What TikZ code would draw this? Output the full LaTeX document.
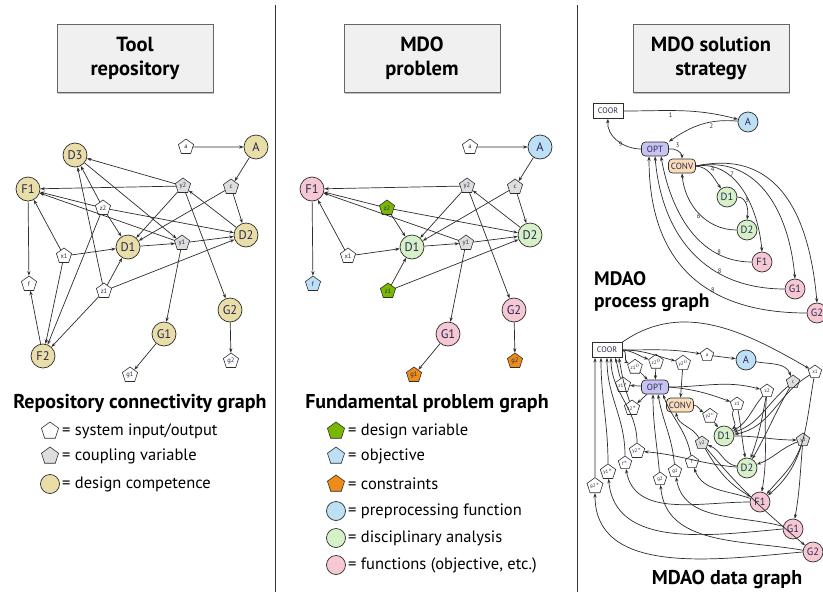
\documentclass[tikz,border=0pt]{standalone}
\usepackage{fontspec}
\setmainfont{PT Sans}
\usetikzlibrary{shapes.geometric,arrows.meta,calc}

\definecolor{comptan}{RGB}{234,222,168}
\definecolor{prepblue}{RGB}{189,224,246}
\definecolor{discgreen}{RGB}{214,241,200}
\definecolor{funcpink}{RGB}{246,200,212}
\definecolor{dvgreen}{RGB}{122,184,0}
\definecolor{conorange}{RGB}{238,140,24}
\definecolor{cplgrey}{RGB}{222,222,222}
\definecolor{optlilac}{RGB}{200,196,242}
\definecolor{convpeach}{RGB}{251,222,185}
\definecolor{boxgrey}{RGB}{240,240,240}
\definecolor{ink}{RGB}{45,45,45}
\definecolor{lbl}{RGB}{40,40,80}

\tikzset{
  comp/.style={circle, draw=ink, line width=0.7pt, minimum size=24pt, inner sep=0pt,
    font=\fontsize{12.5}{12.5}\selectfont, text=lbl},
  pent/.style={regular polygon, regular polygon sides=5, draw=ink, line width=0.6pt,
    minimum size=16pt, inner sep=0pt, fill=white, font=\fontsize{6.5}{6.5}\selectfont, text=lbl},
  edge/.style={-{Stealth[length=4.5pt,width=3.2pt]}, line width=0.7pt, draw=ink},
  titlebox/.style={draw=black!60, line width=0.8pt, fill=boxgrey, minimum width=156pt,
    minimum height=68pt, align=center, font=\bfseries\fontsize{20.5}{24}\selectfont},
  heading/.style={font=\bfseries\fontsize{20}{20}\selectfont, inner sep=0pt},
  legtext/.style={anchor=west, font=\fontsize{16.5}{16.5}\selectfont, inner sep=0pt},
  tool/.style={rounded corners=4pt, draw=ink, line width=0.7pt, minimum height=14pt,
    minimum width=27pt, inner sep=1pt, font=\fontsize{9}{9}\selectfont, text=lbl},
  coorbox/.style={draw=ink, fill=white, line width=0.7pt, minimum width=30pt, minimum height=15pt,
    inner sep=1pt, font=\fontsize{8}{8}\selectfont, text=lbl},
  small/.style={comp, minimum size=20pt, font=\fontsize{10.5}{10.5}\selectfont},
  spent/.style={pent, minimum size=14pt, font=\fontsize{5}{5}\selectfont},
  stepnum/.style={font=\fontsize{6.5}{6.5}\selectfont, text=lbl, inner sep=1pt},
}

% Sellar problem nodes and edges shared by the first two panels
\newcommand\sellarcore{%
  \node[pent, sysin] (a) at (186,147) {a};
  \node[comp, prep] (A) at (256,147) {A};
  \node[pent, cpl] (c) at (231,187) {c};
  \node[pent, cpl] (y2) at (183,186) {y2};
  \node[pent, dvar] (z2) at (103,208) {z2};
  \node[comp, disc] (D1) at (128,247) {D1};
  \node[pent, cpl] (y1) at (182,243) {y1};
  \node[comp, disc] (D2) at (246,235) {D2};
  \node[pent, sysin] (x1) at (64,256) {x1};
  \node[comp, func] (F1) at (28,189) {F1};
  \node[pent, obj] (f) at (29,284) {f};
  \node[pent, dvar] (z1) at (104,291) {z1};
  \node[comp, func] (G2) at (230,310) {G2};
  \node[comp, func] (G1) at (164,334) {G1};
  \node[pent, con] (g1) at (130,375) {g1};
  \node[pent, con] (g2) at (231,361) {g2};
  \foreach \s/\t in {a/A, A/c, c/D1, c/D2, x1/D1, x1/F1, z1/D1, z1/D2, z2/D1, z2/D2, z2/F1,
      y2/D1, y2/F1, y2/G2, y1/D2, y1/F1, y1/G1, D1/y1, D2/y2, F1/f, G1/g1, G2/g2}
    {\draw[edge] (\s) -- (\t);}
}

\begin{document}
\begin{tikzpicture}[x=1pt, y=-1pt]
\useasboundingbox (0,0) rectangle (823,592);
\fill[white] (0,0) rectangle (823,592);

% panel separators
\draw[line width=0.9pt, black!80] (275,5) -- (275,592);
\draw[line width=0.9pt, black!80] (577,5) -- (577,592);

% title boxes
\foreach \cx/\nm/\txt in {135/t1/{Tool\\repository}, 422/t2/{MDO\\problem}, 711/t3/{MDO solution\\strategy}}{
  \fill[black!25] (\cx-77,25) rectangle (\cx+79,93.5);
  \node[titlebox] (\nm) at (\cx,58) {\txt};
}

% ---------------- repository connectivity graph
\begin{scope}[sysin/.style={}, cpl/.style={fill=cplgrey}, dvar/.style={}, obj/.style={}, con/.style={},
  prep/.style={fill=comptan}, disc/.style={fill=comptan}, func/.style={fill=comptan}]
  \sellarcore
  \node[comp, fill=comptan] (D3) at (75,155) {D3};
  \node[comp, fill=comptan] (F2) at (43,356) {F2};
  \foreach \s/\t in {y2/D3, D3/y1, z2/D3, z1/D3, x1/F2, z2/F2, z1/F2, F2/f}
    {\draw[edge] (\s) -- (\t);}
\end{scope}

% ---------------- fundamental problem graph
\begin{scope}[xshift=284pt, name prefix=m, sysin/.style={}, cpl/.style={fill=cplgrey},
  dvar/.style={fill=dvgreen}, obj/.style={fill=prepblue}, con/.style={fill=conorange},
  prep/.style={fill=prepblue}, disc/.style={fill=discgreen}, func/.style={fill=funcpink}]
  \sellarcore
\end{scope}

% ---------------- legends
\node[heading] (lhead) at (140,404) {Repository connectivity graph};
\node[pent, minimum size=18pt] (lk1) at (50,431) {};
\node[legtext] (lt1) at (62,431) {= system input/output};
\node[pent, fill=cplgrey, minimum size=18pt] (lk2) at (50,456) {};
\node[legtext] (lt2) at (62,456) {= coupling variable};
\node[comp, fill=comptan, minimum size=19pt] (lk3) at (50,484) {};
\node[legtext] (lt3) at (62,484) {= design competence};

\node[heading] (mhead) at (427,404) {Fundamental problem graph};
\node[pent, fill=dvgreen, minimum size=18pt] (mk1) at (336,431) {};
\node[legtext] (mt1) at (348,431) {= design variable};
\node[pent, fill=prepblue, minimum size=18pt] (mk2) at (336,456) {};
\node[legtext] (mt2) at (348,456) {= objective};
\node[pent, fill=conorange, minimum size=18pt] (mk3) at (336,484) {};
\node[legtext] (mt3) at (348,484) {= constraints};
\node[comp, fill=prepblue, minimum size=19pt] (mk4) at (336,511) {};
\node[legtext] (mt4) at (348,511) {= preprocessing function};
\node[comp, fill=discgreen, minimum size=19pt] (mk5) at (336,538) {};
\node[legtext] (mt5) at (348,538) {= disciplinary analysis};
\node[comp, fill=funcpink, minimum size=19pt] (mk6) at (336,565) {};
\node[legtext] (mt6) at (348,565) {= functions (objective, etc.)};

% ---------------- MDAO process graph
\node[coorbox] (pCOOR) at (608,111) {COOR};
\node[small, fill=prepblue] (pA) at (748,122) {A};
\node[tool, fill=optlilac] (pOPT) at (655,149) {OPT};
\node[tool, fill=convpeach] (pCONV) at (682,166) {CONV};
\node[small, fill=discgreen] (pD1) at (727,197) {D1};
\node[small, fill=discgreen] (pD2) at (747,230) {D2};
\node[small, fill=funcpink] (pF1) at (762,262) {F1};
\node[small, fill=funcpink] (pG1) at (795,289) {G1};
\node[small, fill=funcpink] (pG2) at (817,313) {G2};

\draw[edge] (pCOOR.east) to[out=0, in=165] node[stepnum, pos=0.4, below=1pt] {1} (pA);
\draw[edge] (pA) to[out=175, in=35] node[stepnum, pos=0.35, below=1pt] {2} (pOPT.north east);
\draw[edge] (pOPT.east) to[out=10, in=90] node[stepnum, pos=0.3, above right] {3} (pCONV.north);
\draw[edge] (pOPT.west) to[out=180, in=-95] node[stepnum, pos=0.35, left] {9} (pCOOR.south);
\draw[edge] (pCONV.east) to[out=-5, in=125] node[stepnum, pos=0.45, above right] {4} (pD1);
\draw[edge] (pD1.east) to[out=0, in=80] node[stepnum, pos=0.3, right] {5} (pD2.north);
\draw[edge] (pD2.west) to[out=180, in=-85] node[stepnum, pos=0.45, left] {6} (pCONV.south);
\draw[edge] (pCONV.east) to[out=8, in=95] node[stepnum, pos=0.35, above] {7} (pF1.north);
\draw[edge] (pCONV.east) to[out=10, in=95, looseness=1.1] (pG1.north);
\draw[edge] (pCONV.east) to[out=12, in=95, looseness=1.2] (pG2.north);
\draw[edge] (pF1.west) to[out=180, in=-80] node[stepnum, pos=0.2, above left] {8} ([xshift=6pt]pOPT.south);
\draw[edge] (pG1.west) to[out=180, in=-85, looseness=1.1] node[stepnum, pos=0.3, above left] {8} (pOPT.south);
\draw[edge] (pG2.west) to[out=180, in=-90, looseness=1.2] node[stepnum, pos=0.35, above left] {8} ([xshift=-6pt]pOPT.south);

\node[heading, anchor=west, align=left, font=\bfseries\fontsize{19.5}{22}\selectfont] (phead) at (594,292) {MDAO\\process graph};

% ---------------- MDAO data graph
\node[coorbox] (dCOOR) at (607,350) {COOR};
\node[spent] (da) at (707,355) {a};
\node[small, fill=prepblue] (dA) at (746,360) {A};
\node[spent, fill=cplgrey] (dc) at (793,382) {c};
\node[spent] (dx1) at (815,372) {x1};
\node[spent] (dz1o) at (635,367) {z1$^0$};
\node[spent] (dz2o) at (656,362) {z2$^0$};
\node[spent] (dy2o) at (683,363) {y2$^0$};
\node[tool, fill=optlilac] (dOPT) at (655,387) {OPT};
\node[tool, fill=convpeach] (dCONV) at (680,405) {CONV};
\node[spent] (dz1s) at (623,385) {z1$^*$};
\node[spent] (dz2s) at (632,408) {z2$^*$};
\node[spent] (dz2) at (767,391) {z2};
\node[spent] (dz1) at (737,404) {z1};
\node[spent] (dy2c) at (710,416) {y2$^c$};
\node[small, fill=discgreen] (dD1) at (724,436) {D1};
\node[spent, fill=cplgrey] (dy1) at (803,440) {y1};
\node[spent, fill=cplgrey] (dy2) at (702,443) {y2};
\node[spent] (dy2s) at (637,451) {y2$^*$};
\node[small, fill=discgreen] (dD2) at (747,468) {D2};
\node[spent] (df) at (692,462) {f};
\node[spent] (dfs) at (625,463) {f$^*$};
\node[spent] (dy1s) at (608,472) {y1$^*$};
\node[spent] (dg1) at (675,471) {g1};
\node[spent] (dg2) at (660,479) {g2};
\node[spent] (dgs) at (595,486) {g2$^*$};
\node[small, fill=funcpink] (dF1) at (760,502) {F1};
\node[small, fill=funcpink] (dG1) at (793,529) {G1};
\node[small, fill=funcpink] (dG2) at (813,552) {G2};

\draw[edge] (dCOOR.east) to[out=0, in=170] (da);
\draw[edge] (da) -- (dA);
\draw[edge] (dA) to[out=-10, in=110] (dc);
\draw[edge] (dCOOR.north east) to[out=35, in=150] (dx1);
\draw[edge] (dCOOR.east) to[out=-10, in=150] (dz1o);
\draw[edge] (dCOOR.east) to[out=-5, in=160] (dz2o);
\draw[edge] (dCOOR.east) to[out=0, in=165] (dy2o);
\draw[edge] (dz1o) -- (dOPT);
\draw[edge] (dz2o) -- (dOPT);
\draw[edge] (dy2o) -- (dCONV);
\draw[edge] (dOPT) -- (dz1s);
\draw[edge] (dOPT) -- (dz2s);
\draw[edge] (dz1s) to[out=110, in=-70] ([xshift=8pt]dCOOR.south);
\draw[edge] (dz2s) to[out=110, in=-80] ([xshift=12pt]dCOOR.south);
\draw[edge] (dOPT.east) to[out=0, in=165] (dz2);
\draw[edge] (dOPT.east) to[out=-5, in=160] (dz1);
\draw[edge] (dCONV.east) to[out=-10, in=150] (dy2c);
\draw[edge] (dy2c) -- (dD1);
\foreach \s/\t/\o/\i in {dz2/dD1/-130/30, dz2/dD2/-100/70, dz2/dF1/-95/80, dz1/dD1/-120/40,
    dz1/dD2/-80/100, dc/dD1/-140/20, dc/dD2/-120/60, dx1/dD1/-150/10, dx1/dF1/-100/40,
    dy1/dD2/-160/20, dy1/dF1/-110/50, dy1/dG1/-95/80, dy2/dF1/-60/150, dy2/dG2/-50/140}
  {\draw[edge] (\s) to[out=\o, in=\i] (\t);}
\draw[edge] (dD1) to[out=0, in=180] (dy1);
\draw[edge] (dD2) to[out=170, in=-20] (dy2);
\draw[edge] (dy2) to[out=120, in=-80] ([xshift=-4pt]dCONV.south);
\draw[edge] (dD2) to[out=175, in=-5] (dy2s);
\draw[edge] (dF1) to[out=160, in=-70] (df);
\draw[edge] (dG1) to[out=165, in=-80] (dg1);
\draw[edge] (dG2) to[out=170, in=-85] (dg2);
\draw[edge] (df) to[out=100, in=-70] ([xshift=8pt]dOPT.south);
\draw[edge] (dg1) to[out=95, in=-80] ([xshift=3pt]dOPT.south);
\draw[edge] (dg2) to[out=95, in=-90] ([xshift=-2pt]dOPT.south);
\draw[edge] (dF1.west) to[out=180, in=-80] (dfs);
\draw[edge] (dG1.west) to[out=185, in=-85] (dy1s);
\draw[edge] (dG2.west) to[out=185, in=-90] (dgs);
\foreach \p/\dx in {dgs/-12, dy1s/-6, dfs/0, dy2s/4}
  {\draw[edge] (\p) to[out=90, in=-90] ([xshift=\dx pt]dCOOR.south);}

\node[heading] (dhead) at (727,579) {MDAO data graph};
\end{tikzpicture}
\end{document}
